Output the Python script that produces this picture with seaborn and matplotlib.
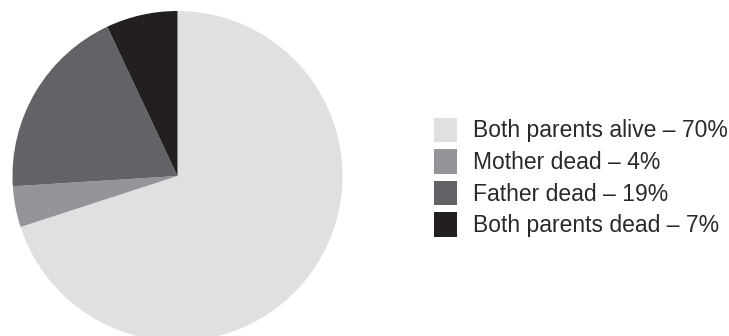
import matplotlib
matplotlib.use("Agg")
import matplotlib.pyplot as plt
import seaborn as sns
from matplotlib.patches import Rectangle

sns.set_theme(style="white")
plt.rcParams["font.family"] = ["Liberation Sans", "DejaVu Sans"]

# Orphan status shares
categories = ["Both parents alive", "Mother dead", "Father dead", "Both parents dead"]
shares = [70, 4, 19, 7]
colors = ["#dfe0e2", "#939598", "#626366", "#231f20"]

W, H = 729, 336
fig = plt.figure(figsize=(W / 100, H / 100), dpi=100)
ax = fig.add_axes([0, 0, 1, 1])

ax.pie(shares, colors=colors, startangle=90, counterclock=False,
       center=(177.5, 160), radius=165,
       wedgeprops=dict(linewidth=0, antialiased=True))
ax.set_xlim(0, W)
ax.set_ylim(0, H)
ax.set_aspect("equal")
ax.axis("off")

# Legend: swatch plus "label – value%"
x_box, y_top, step = 434, 117.5, 31.6
for i, (cat, val, col) in enumerate(zip(categories, shares, colors)):
    top = y_top + i * step
    ax.add_patch(Rectangle((x_box, H - top - 24.5), 23.5, 24.5,
                           facecolor=col, edgecolor="none"))
    ax.text(473, H - (top + 20), f"{cat} \u2013 {val}%", fontsize=16.5,
            color="#2a2829", ha="left", va="baseline")

fig.savefig("out.png", dpi=100)
